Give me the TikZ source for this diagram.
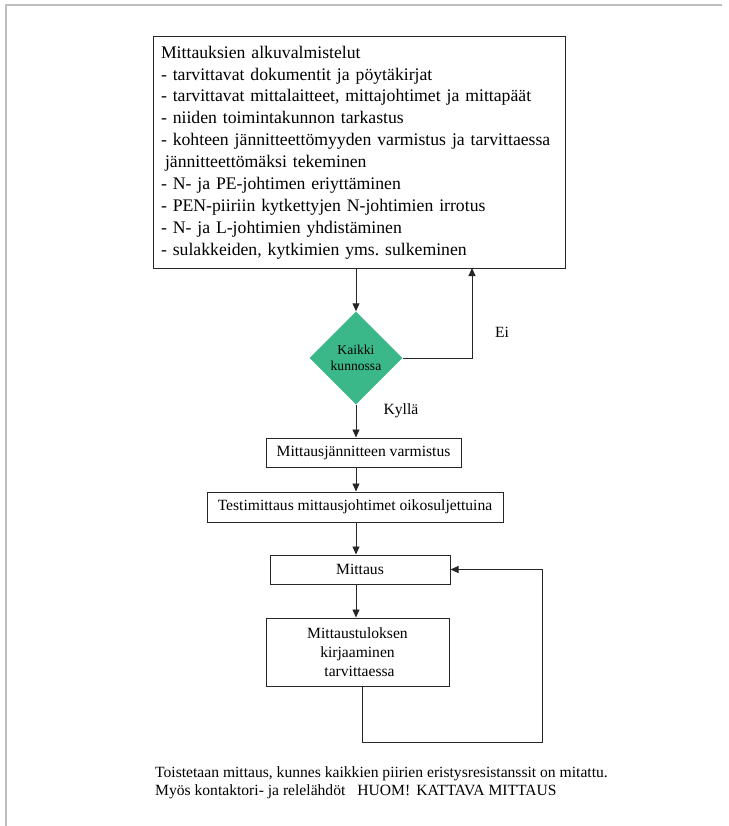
\documentclass[tikz,border=0pt]{standalone}
\usepackage{fontspec}
\setmainfont{Liberation Serif}
\usetikzlibrary{shapes.geometric,arrows.meta}
\frenchspacing
\definecolor{dgreen}{RGB}{58,184,138}
\definecolor{frame}{RGB}{190,190,190}
\tikzset{
  box/.style={draw=black!85,line width=1pt,inner sep=0pt,font=\fontsize{15.6}{18}\selectfont},
  arr/.style={draw=black!85,line width=0.9pt,-{Triangle[length=8pt,width=7pt]}},
  lbl/.style={font=\fontsize{15.6}{18}\selectfont,inner sep=0pt},
}
\begin{document}
\begin{tikzpicture}[x=1pt,y=-1pt]
\useasboundingbox (0,0) rectangle (728,826);
\draw[frame,line width=1.2pt] (6,826) -- (6,5) -- (722,5);

\node[box,minimum width=412,minimum height=231,text width=396,align=left,
  font=\fontsize{17.7}{21.9}\selectfont] (top) at (359,152.5) {%
Mittauksien alkuvalmistelut\\
- tarvittavat dokumentit ja pöytäkirjat\\
- tarvittavat mittalaitteet, mittajohtimet ja mittapäät\\
- niiden toimintakunnon tarkastus\\
- kohteen jännitteettömyyden varmistus ja tarvittaessa\\
\hspace*{4pt}jännitteettömäksi tekeminen\\
- N- ja PE-johtimen eriyttäminen\\
- PEN-piiriin kytkettyjen N-johtimien irrotus\\
- N- ja L-johtimien yhdistäminen\\
- sulakkeiden, kytkimien yms. sulkeminen};

\node[diamond,fill=dgreen,minimum width=93,minimum height=93,inner sep=0pt,
  align=center,font=\fontsize{13.6}{16}\selectfont] (d) at (356,358) {Kaikki\\kunnossa};

\node[box,minimum width=195,minimum height=29] (b2) at (363.5,452.5) {Mittausjännitteen varmistus};
\node[box,minimum width=296,minimum height=30] (b3) at (355,507) {Testimittaus mittausjohtimet oikosuljettuina};
\node[box,minimum width=180,minimum height=29] (b4) at (360,569.5) {Mittaus};
\node[box,minimum width=183,minimum height=68,align=center,
  font=\fontsize{15.6}{19}\selectfont] (b5) at (357.5,652) {Mittaustuloksen\\kirjaaminen\\\hspace*{4pt}tarvittaessa};

\node[lbl] (ei) at (502,332) {Ei};
\node[lbl] (ky) at (401,411) {Kyllä};

\coordinate (eiup) at (472,268);
\coordinate (loopc) at (542,742);

\draw[arr] (d.north |- top.south) -- (d.north);
\draw[arr] (d.east) -| (eiup);
\draw[arr] (d.south) -- (d.south |- b2.north);
\draw[arr] (d.south |- b2.south) -- (d.south |- b3.north);
\draw[arr] (d.south |- b3.south) -- (d.south |- b4.north);
\draw[arr] (d.south |- b4.south) -- (d.south |- b5.north);
\draw[arr] ([xshift=4.5pt]b5.south) |- (loopc) |- (b4.east);

\node[lbl,anchor=mid west] (n1) at (155,775.5) {Toistetaan mittaus, kunnes kaikkien piirien eristysresistanssit on mitattu.};
\node[lbl,anchor=mid west] (n2) at (155,793) {Myös kontaktori- ja relelähdöt\hspace{12pt}HUOM!\hspace{6pt}KATTAVA MITTAUS};
\end{tikzpicture}
\end{document}
